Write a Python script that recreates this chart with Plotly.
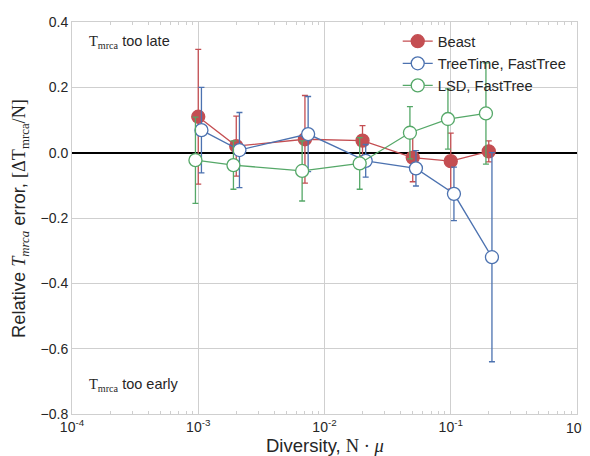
import plotly.graph_objects as go

# Data
beast_x = [0.001, 0.002, 0.007, 0.02, 0.05, 0.1, 0.2]
beast_y = [0.110, 0.020, 0.041, 0.037, -0.015, -0.026, 0.004]
beast_err = [0.206, 0.092, 0.134, 0.046, 0.074, 0.086, 0.032]

treetime_x = [0.00106, 0.00212, 0.00742, 0.0212, 0.053, 0.106, 0.212]
treetime_y = [0.069, 0.008, 0.057, -0.025, -0.048, -0.126, -0.320]
treetime_err = [0.131, 0.115, 0.115, 0.050, 0.054, 0.082, 0.320]

lsd_x = [0.00095, 0.0019, 0.00665, 0.019, 0.0475, 0.095, 0.19]
lsd_y = [-0.023, -0.038, -0.056, -0.033, 0.061, 0.103, 0.120]
lsd_err = [0.132, 0.074, 0.092, 0.079, 0.080, 0.092, 0.155]

x_tickvals = [1e-4, 1e-3, 1e-2, 1e-1, 1]
x_ticktext = ["10<sup>-4</sup>", "10<sup>-3</sup>", "10<sup>-2</sup>", "10<sup>-1</sup>", ""]
x_last_label = "10<sup>0</sup>"
x_minor = [m * 10 ** e for e in (-4, -3, -2, -1) for m in range(2, 10)]
y_tickvals = [0.4, 0.2, 0.0, -0.2, -0.4, -0.6, -0.8]
y_ticktext = ["0.4", "0.2", "0.0", "\u22120.2", "\u22120.4", "\u22120.6", "\u22120.8"]

RED = "#C44E52"
BLUE = "#4C72B0"
GREEN = "#55A868"
SERIF = "Liberation Serif"
GRID = "#cfcfcf"

fig = go.Figure()

def add_series(name, xs, ys, errs, color, filled):
    fig.add_trace(go.Scatter(
        x=xs, y=ys, name=name, mode="lines+markers",
        line=dict(color=color, width=1.3),
        marker=dict(size=13, color=color if filled else "white",
                    line=dict(color=color, width=1.3)),
        error_y=dict(type="data", array=errs, visible=True,
                     color=color, thickness=1.3, width=3),
    ))

add_series("Beast", beast_x, beast_y, beast_err, RED, True)
add_series("TreeTime, FastTree", treetime_x, treetime_y, treetime_err, BLUE, False)
add_series("LSD, FastTree", lsd_x, lsd_y, lsd_err, GREEN, False)

def serif(s):
    return f"<span style=\"font-family:'{SERIF}'\">{s}</span>"

serT = serif("T<sub>mrca</sub>")

# The page places the plot 8px in from the top-left corner; margins are
# chosen so the plotting area lands where the reference has it.
fig.update_layout(
    width=590, height=448,
    margin=dict(l=64, r=21, t=14, b=42, autoexpand=False),
    paper_bgcolor="white", plot_bgcolor="white",
    font=dict(family="Liberation Sans, Arial, sans-serif", size=14, color="#262626"),
    showlegend=True,
    legend=dict(x=0.645, y=0.992, xanchor="left", yanchor="top",
                bgcolor="rgba(0,0,0,0)", font=dict(size=14.7),
                tracegroupgap=0),
    annotations=[
        dict(text=serT + " too late", xref="paper", yref="paper",
             x=0.03, y=0.95, xanchor="left", yanchor="middle",
             showarrow=False, font=dict(size=14.5)),
        dict(text=serT + " too early", xref="paper", yref="paper",
             x=0.03, y=0.074, xanchor="left", yanchor="middle",
             showarrow=False, font=dict(size=14.5)),
        dict(text="Diversity, " + serif("N \u00b7 <i>\u03bc</i>"),
             xref="paper", yref="paper", x=0.5, y=-0.081,
             xanchor="center", yanchor="middle", showarrow=False,
             font=dict(size=18.5)),
        dict(text="Relative <i>" + serT + "</i> error, " + serif("[\u0394T<sub>mrca</sub>/N]"),
             xref="paper", yref="paper", x=-0.103, y=0.5, textangle=-90,
             xanchor="center", yanchor="middle", showarrow=False,
             font=dict(size=18.3)),
        # last x tick label, drawn as an annotation so it is not clipped
        dict(text=x_last_label, xref="x", yref="paper", x=0, y=-0.032,
             xanchor="center", yanchor="middle", showarrow=False,
             font=dict(size=14)),
    ],
)

fig.update_xaxes(
    type="log", range=[-4, 0], automargin=False,
    tickvals=x_tickvals, ticktext=x_ticktext, ticklabeloverflow="allow",
    showgrid=True, gridcolor=GRID, gridwidth=1,
    showline=True, linecolor=GRID, linewidth=1, mirror="ticks",
    ticks="", tickfont=dict(size=14),
    minor=dict(ticks="inside", ticklen=3, tickcolor=GRID, showgrid=False,
               tickvals=x_minor),
    zeroline=False,
)
fig.update_yaxes(
    range=[-0.8, 0.4], automargin=False,
    tickvals=y_tickvals, ticktext=y_ticktext, ticklabeloverflow="allow",
    showgrid=True, gridcolor=GRID, gridwidth=1,
    showline=True, linecolor=GRID, linewidth=1, mirror=True,
    ticks="", tickfont=dict(size=14),
    zeroline=True, zerolinecolor="black", zerolinewidth=1.6,
)

fig.write_html("out.html",
               post_script="document.documentElement.style.overflow='hidden';"
                           "document.body.style.overflow='hidden';")
